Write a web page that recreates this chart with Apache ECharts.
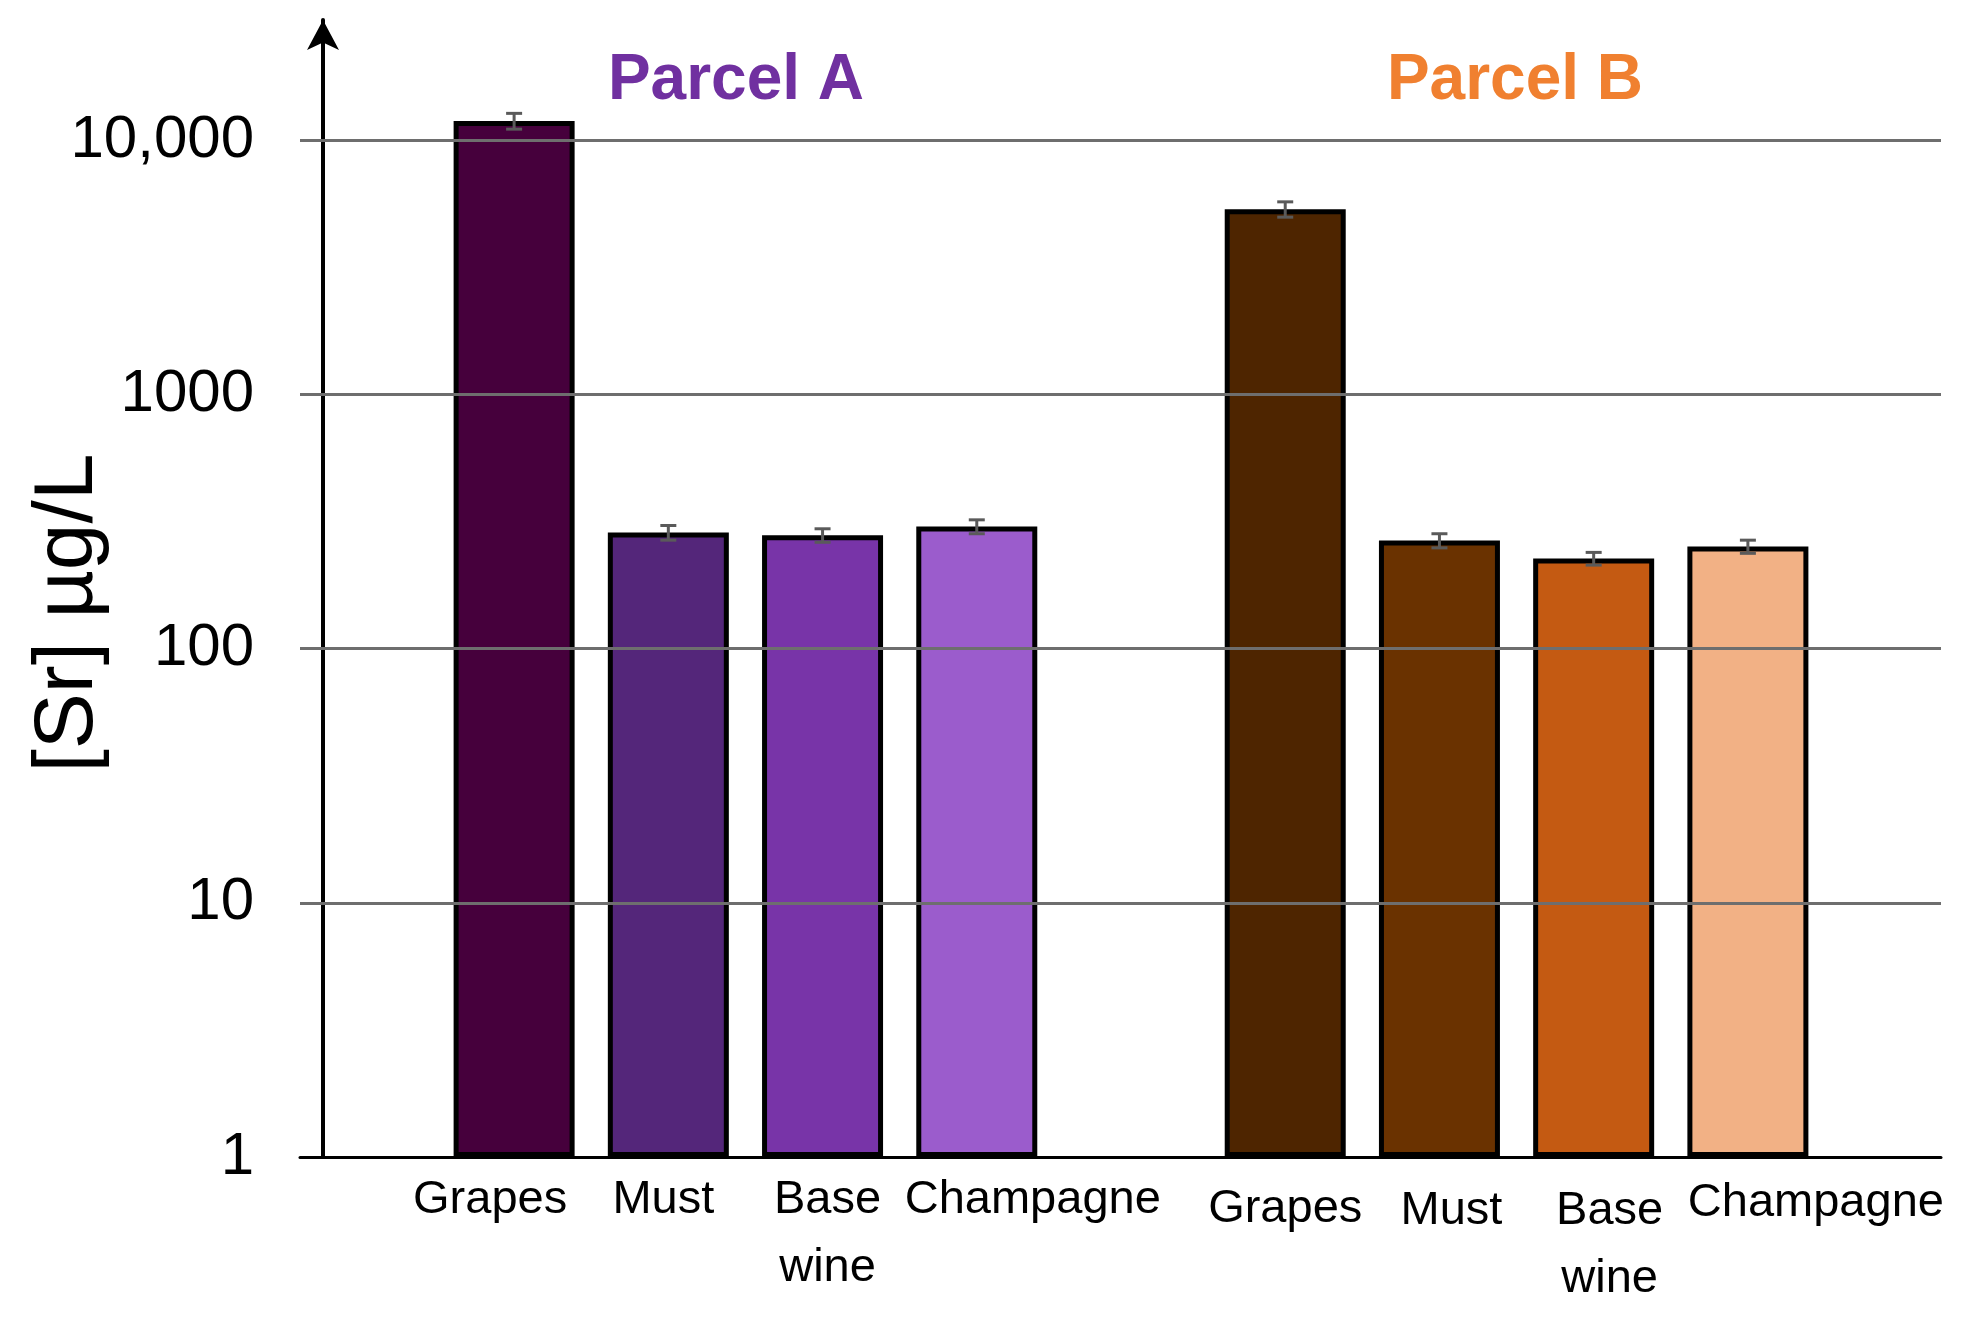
<!DOCTYPE html>
<html>
<head>
<meta charset="utf-8">
<script src="https://cdn.jsdelivr.net/npm/echarts@6/dist/echarts.min.js"></script>
<style>
  html, body { margin: 0; padding: 0; background: #fff; }
  #main { width: 1963px; height: 1320px; }
</style>
</head>
<body>
<div id="main"></div>
<script>
// values
var categories = ['Grapes', 'Must', 'Base\nwine', 'Champagne'];
var parcels = ['Parcel A', 'Parcel B'];
var parcelA = [11900, 286, 279, 302];
var parcelB = [5350, 266, 226, 252];
var errA = [850, 19, 17, 19];
var errB = [370, 17, 13, 15];
var tickValues = [1, 10, 100, 1000, 10000];
var tickLabels = ['1', '10', '100', '1000', '10,000'];

var colorsA = ['#46003c', '#54267a', '#7834a8', '#9b5ccc'];
var colorsB = ['#4e2500', '#6a3200', '#c45a12', '#f2b185'];
var parcelColors = ['#7030a0', '#f08030'];

// small nudges of the x labels, as in the original figure
var labelShift = [-24, -5, 5, 56, 0, 0, 12, 16, 68];
var labelDrop = [0, 0, 0, 0, 0, 9, 11, 11, 3];

var font = '"Liberation Sans", Arial, sans-serif';
var yMax = 29700;

var xData = [], barData = [], errData = [];
function addParcel(vals, errs, colors) {
  vals.forEach(function (v, i) {
    var idx = xData.length;
    xData.push({
      value: categories[i],
      textStyle: {
        padding: [labelDrop[idx], Math.max(0, -labelShift[idx] * 2), 0, Math.max(0, labelShift[idx] * 2)]
      }
    });
    barData.push({ value: v, itemStyle: { color: colors[i] } });
    errData.push([idx, v - errs[i], v + errs[i]]);
  });
}
addParcel(parcelA, errA, colorsA);
xData.push({ value: '' });
barData.push('-');
addParcel(parcelB, errB, colorsB);

var myChart = echarts.init(document.getElementById('main'));

var option = {
  animation: false,
  backgroundColor: '#fff',
  title: parcels.map(function (p, i) {
    return {
      text: p,
      left: i === 0 ? 731 : 1510,
      top: 44,
      textAlign: 'center',
      textStyle: { color: parcelColors[i], fontSize: 64, fontWeight: 'bold', fontFamily: font }
    };
  }),
  graphic: [{
    type: 'text',
    x: 69,
    y: 613,
    rotation: Math.PI / 2,
    style: {
      text: '[Sr] µg/L',
      fontSize: 84,
      fontFamily: font,
      fill: '#000',
      align: 'center',
      verticalAlign: 'middle'
    }
  }],
  grid: [
    { left: 300, right: 22, top: 20, bottom: 163 },
    { left: 437, right: 138, top: 20, bottom: 163 }
  ],
  xAxis: [
    {
      type: 'value', gridIndex: 0, min: 0, max: 1,
      axisLine: { show: true, onZero: false, lineStyle: { color: '#000', width: 3 } },
      axisTick: { show: false }, axisLabel: { show: false }, splitLine: { show: false }
    },
    {
      type: 'category', gridIndex: 1, data: xData,
      axisLine: { show: false }, axisTick: { show: false },
      axisLabel: {
        interval: 0, margin: 9, color: '#000', fontSize: 47, lineHeight: 68,
        fontFamily: font
      }
    }
  ],
  yAxis: [
    {
      type: 'log', gridIndex: 0, min: 1, max: yMax, offset: -23,
      axisLine: {
        show: true, symbol: ['none', 'arrow'], symbolSize: [24, 30],
        lineStyle: { color: '#000', width: 4 }
      },
      axisTick: { show: false },
      splitLine: { show: false },
      axisLabel: {
        margin: 69, color: '#000', fontSize: 60, fontFamily: font,
        showMaxLabel: false,
        formatter: function (v) {
          for (var i = 0; i < tickValues.length; i++) {
            if (Math.abs(v - tickValues[i]) < tickValues[i] * 1e-6) return tickLabels[i];
          }
          return '';
        }
      }
    },
    { type: 'log', gridIndex: 1, min: 1, max: yMax, show: false }
  ],
  series: [
    {
      // horizontal gridlines
      type: 'line', xAxisIndex: 0, yAxisIndex: 0,
      data: [[0, 1], [1, 1]], showSymbol: false, silent: true,
      lineStyle: { width: 0 },
      markLine: {
        silent: true, symbol: ['none', 'none'], label: { show: false },
        lineStyle: { color: '#6e6e6e', width: 3, type: 'solid' },
        data: tickValues.slice(1).map(function (v) { return { yAxis: v }; })
      }
    },
    {
      type: 'bar', xAxisIndex: 1, yAxisIndex: 1,
      data: barData, barWidth: 121,
      itemStyle: { borderColor: '#000', borderWidth: 5 }
    },
    {
      type: 'custom', xAxisIndex: 1, yAxisIndex: 1,
      data: errData, z: 5,
      encode: { x: 0, y: [1, 2] },
      renderItem: function (params, api) {
        var x = api.value(0);
        var lo = api.coord([x, api.value(1)]);
        var hi = api.coord([x, api.value(2)]);
        var w = 8;
        var st = { stroke: '#5a5a5a', lineWidth: 3 };
        return {
          type: 'group',
          children: [
            { type: 'line', shape: { x1: hi[0], y1: hi[1], x2: lo[0], y2: lo[1] }, style: st },
            { type: 'line', shape: { x1: hi[0] - w, y1: hi[1], x2: hi[0] + w, y2: hi[1] }, style: st },
            { type: 'line', shape: { x1: lo[0] - w, y1: lo[1], x2: lo[0] + w, y2: lo[1] }, style: st }
          ]
        };
      }
    }
  ]
};

myChart.setOption(option);
</script>
</body>
</html>
